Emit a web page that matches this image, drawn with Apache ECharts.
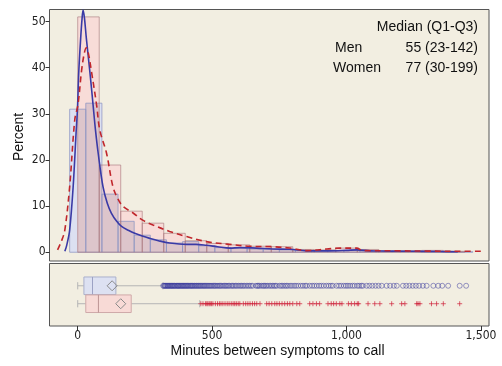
<!DOCTYPE html>
<html><head><meta charset="utf-8">
<script src="https://cdn.jsdelivr.net/npm/echarts@6/dist/echarts.min.js"></script>
<style>html,body{margin:0;padding:0;background:#fff}#c{width:502px;height:366px}</style>
</head><body><div id="c"></div>
<script>
// ---------- data ----------
const xTicks = [0, 500, 1000, 1500];
const yTicks = [0, 10, 20, 30, 40, 50];
const xTitle = 'Minutes between symptoms to call';
const yTitle = 'Percent';
const statsHeader = 'Median (Q1-Q3)';
const statsGroups = ['Men', 'Women'];
const statsValues = ['55 (23-142)', '77 (30-199)'];

// histogram: Men, 60-minute bins (midpoints)
const menBinWidth = 60;
const menBinMid = [0,60,120,180,240,300,360,420,480,540,600,660,720,780,840,900,960,1020,1080,1140,1200,1260,1320,1380,1440];
const menPct    = [31.0,32.3,12.6,6.7,3.7,2.7,2.0,2.3,1.4,1.0,0.9,0.7,0.6,0.5,0.4,0.3,0.4,0.4,0.3,0.2,0.3,0.2,0.2,0.1,0.1];
// histogram: Women, 80-minute bins (midpoints)
const womenBinWidth = 80;
const womenBinMid = [40,120,200,280,360,440,520,600,680,760,840,920,1000,1080,1160,1240,1320,1400];
const womenPct    = [51.0,18.9,8.9,6.3,4.1,2.5,1.9,1.6,1.3,1.2,0.6,0.5,0.9,0.6,0.3,0.3,0.4,0.2];

// kernel density curves [minutes, percent]
const menKde = [[-48,0.2],[-41,1.5],[-30,4.8],[-17,14.2],[-6,26],[-1,31],[4,39.2],[11,46.4],[16,50.5],[20,52.5],[25,50.8],[32,46.4],[45,39.2],[57,32],[66,26.5],[76,21.5],[94,14.2],[110,10.6],[125,8.5],[145,6.7],[163,5.6],[190,4.7],[212,4.1],[240,3.5],[268,3.0],[300,2.5],[342,2.0],[405,1.7],[440,1.7],[479,1.5],[520,1.2],[566,0.9],[603,1.0],[666,0.9],[726,0.7],[789,0.65],[852,0.3],[938,0.3],[1000,0.4],[1038,0.5],[1087,0.3],[1150,0.25],[1250,0.2],[1350,0.15],[1414,0.1]];
const womenKde = [[-75,0.5],[-60,2.5],[-48,4.8],[-30,14.2],[-11,28.7],[1,32],[14,39.2],[24,43],[32,44.3],[40,43],[51,39.2],[70,32],[82,26.5],[107,21.5],[131,14.2],[150,11.5],[169,9.9],[206,8.5],[240,7.0],[280,5.9],[342,4.5],[405,3.4],[479,2.3],[566,1.7],[640,1.3],[726,1.2],[789,0.9],[852,0.35],[927,0.7],[975,0.9],[1038,0.9],[1061,0.35],[1200,0.3],[1300,0.25],[1414,0.2],[1500,0.2]];

// box plots: [whisker low, Q1, median, Q3, whisker high], mean
const menBox = [0, 23, 55, 142, 317];
const menMean = 128;
const womenBox = [0, 30, 77, 199, 454];
const womenMean = 160;

const menOutliers = [318,321,324,326,329,332,335,337,340,343,346,349,351,354,357,360,362,366,369,372,374,377,380,383,386,389,392,395,398,401,404,407,410,413,417,420,423,426,429,433,436,440,443,447,450,454,457,461,465,469,472,476,480,484,488,492,496,500,505,509,513,518,522,527,531,536,541,546,551,555,560,565,571,576,581,587,592,598,604,609,615,620,627,633,639,645,651,
663,668,672,677,684,690,694,700,705,712,718,724,730,735,741,
751,757,763,770,776,782,790,797,805,812,820,830,838,846,852,
863,872,880,889,898,906,915,925,934,942,949,
963,972,980,990,998,1005,1013,1022,1030,1040,1047,1055,1061,
1075,1085,1096,1108,1119,1131,1149,1162,1176,1187,
1210,1222,1234,1246,1258,1270,1284,1298,1323,1341,1356,1378,1421,1445];
const womenOutliers = [458,466,475,480,484,489,493,498,503,512,520,527,533,540,548,556,563,571,578,584,590,597,603,
616,625,633,641,650,658,666,678,703,712,722,733,741,750,760,770,780,789,800,815,826,
863,875,888,900,931,943,952,962,975,983,1007,1018,1030,1040,1045,
1080,1105,1124,1168,1205,1217,1261,1266,1273,1316,1335,1360,1421];

// ---------- build ----------
const narrow = "'Liberation Sans Narrow','Arial Narrow','DejaVu Sans Condensed',sans-serif";
const sans = "'Liberation Sans',Arial,sans-serif";
const panelBg = '#F2EEE1';
const menRow = 0, womenRow = 1;

const menBins = menBinMid.map((m, i) => [m - menBinWidth / 2, m + menBinWidth / 2, menPct[i]]);
const womenBins = womenBinMid.map((m, i) => [m - womenBinWidth / 2, m + womenBinWidth / 2, womenPct[i]]);
const overlapBins = [];
menBins.forEach(a => womenBins.forEach(b => {
  const l = Math.max(a[0], b[0]), r = Math.min(a[1], b[1]);
  if (r > l) overlapBins.push([l, r, Math.min(a[2], b[2])]);
}));

function barSeries(data, fill, stroke, z) {
  return {
    type: 'custom', xAxisIndex: 0, yAxisIndex: 0, z: z, silent: true,
    data: data,
    renderItem: function (params, api) {
      const p0 = api.coord([api.value(0), 0]);
      const p1 = api.coord([api.value(1), api.value(2)]);
      return {
        type: 'rect',
        shape: { x: p0[0], y: p1[1], width: p1[0] - p0[0], height: p0[1] - p1[1] },
        style: { fill: fill, stroke: stroke, lineWidth: 1 }
      };
    }
  };
}

function boxSeries(row, stats, fill, stroke, medColor) {
  return {
    type: 'custom', xAxisIndex: 1, yAxisIndex: 1, silent: true, z: 3,
    data: [[row].concat(stats)],
    renderItem: function (params, api) {
      const r = api.value(0);
      const lo = api.value(1), q1 = api.value(2), md = api.value(3), q3 = api.value(4), hi = api.value(5);
      const c = v => api.coord([v, r]);
      const top = api.coord([q1, r - 0.49])[1], bot = api.coord([q1, r + 0.49])[1];
      const capT = api.coord([lo, r - 0.2])[1], capB = api.coord([lo, r + 0.2])[1];
      const y = c(lo)[1];
      const wc = '#B5B5B5';
      return {
        type: 'group',
        children: [
          { type: 'line', shape: { x1: c(lo)[0], y1: y, x2: c(q1)[0], y2: y }, style: { stroke: wc, lineWidth: 1 } },
          { type: 'line', shape: { x1: c(q3)[0], y1: y, x2: c(hi)[0], y2: y }, style: { stroke: wc, lineWidth: 1 } },
          { type: 'line', shape: { x1: c(lo)[0], y1: capT, x2: c(lo)[0], y2: capB }, style: { stroke: wc, lineWidth: 1 } },
          { type: 'line', shape: { x1: c(hi)[0], y1: capT, x2: c(hi)[0], y2: capB }, style: { stroke: wc, lineWidth: 1 } },
          { type: 'rect', shape: { x: c(q1)[0], y: top, width: c(q3)[0] - c(q1)[0], height: bot - top }, style: { fill: fill, stroke: stroke, lineWidth: 1 } },
          { type: 'line', shape: { x1: c(md)[0], y1: top, x2: c(md)[0], y2: bot }, style: { stroke: medColor, lineWidth: 1 } }
        ]
      };
    }
  };
}

const fmt = v => String(v).replace(/\B(?=(\d{3})+(?!\d))/g, ',');

const option = {
  animation: false,
  backgroundColor: '#ffffff',
  grid: [
    { left: 49.5, top: 9.5, width: 439.5, height: 251.5, show: true, backgroundColor: panelBg, borderColor: '#555', borderWidth: 1, containLabel: false },
    { left: 49.5, top: 263.5, width: 439.5, height: 62.5, show: true, backgroundColor: panelBg, borderColor: '#555', borderWidth: 1, containLabel: false }
  ],
  xAxis: [
    { type: 'value', gridIndex: 0, min: -105, max: 1530, axisLine: { show: false, onZero: false }, axisTick: { show: false }, axisLabel: { show: false }, splitLine: { show: false } },
    { type: 'value', gridIndex: 1, min: -105, max: 1530, position: 'bottom', axisLine: { show: false, onZero: false },
      axisTick: { show: true, customValues: xTicks, length: 5, lineStyle: { color: '#333' } },
      axisLabel: { show: true, customValues: xTicks, formatter: fmt, fontFamily: narrow, fontSize: 12, color: '#222', margin: 4 },
      splitLine: { show: false } }
  ],
  yAxis: [
    { type: 'value', gridIndex: 0, min: -1.9, max: 52.6, position: 'left', axisLine: { show: false, onZero: false },
      axisTick: { show: true, customValues: yTicks, length: 4, lineStyle: { color: '#333' } },
      axisLabel: { show: true, customValues: yTicks, fontFamily: narrow, fontSize: 12, color: '#222', margin: 4 },
      splitLine: { show: false } },
    { type: 'value', gridIndex: 1, min: -1.24, max: 2.24, inverse: true, show: false, axisLine: { onZero: false }, splitLine: { show: false } }
  ],
  series: [
    barSeries(menBins, '#DCE0F1', null, 1),
    barSeries(womenBins, '#F8DCD8', null, 1),
    barSeries(overlapBins, '#DDC5CB', null, 1),
    barSeries(menBins, 'none', 'rgba(140,148,195,0.75)', 2),
    barSeries(womenBins, 'none', 'rgba(165,115,120,0.6)', 2),
    { type: 'line', xAxisIndex: 0, yAxisIndex: 0, data: menKde, smooth: 0.35, showSymbol: false, z: 4,
      lineStyle: { color: '#3A3AA6', width: 1.6 } },
    { type: 'line', xAxisIndex: 0, yAxisIndex: 0, data: womenKde, smooth: 0.35, showSymbol: false, z: 5,
      lineStyle: { color: '#C0262C', width: 1.6, type: [6, 4] } },
    boxSeries(menRow, menBox, '#DDE1F2', '#AAB0CC', '#9CA2C4'),
    boxSeries(womenRow, womenBox, '#F8DAD6', '#CFA9A9', '#BC9494'),
    { type: 'scatter', xAxisIndex: 1, yAxisIndex: 1, z: 4, silent: true,
      data: [[menMean, menRow], [womenMean, womenRow]], symbol: 'diamond', symbolSize: [10, 10],
      itemStyle: { color: 'rgba(0,0,0,0)', borderColor: '#8A8A8A', borderWidth: 1, opacity: 1 } },
    { type: 'scatter', xAxisIndex: 1, yAxisIndex: 1, z: 4, silent: true,
      data: menOutliers.map(v => [v, menRow]), symbol: 'circle', symbolSize: 5,
      itemStyle: { color: 'rgba(0,0,0,0)', borderColor: 'rgba(55,55,155,0.5)', borderWidth: 1, opacity: 1 } },
    { type: 'scatter', xAxisIndex: 1, yAxisIndex: 1, z: 4, silent: true,
      data: womenOutliers.map(v => [v, womenRow]), symbol: 'path://M2,0L2,4M0,2L4,2', symbolSize: 5,
      itemStyle: { color: 'rgba(0,0,0,0)', borderColor: 'rgba(205,30,55,0.7)', borderWidth: 1, opacity: 1 } }
  ],
  graphic: [
    { type: 'text', x: 478, y: 27, style: { text: statsHeader, font: '14px ' + sans, fill: '#111', align: 'right', verticalAlign: 'middle' } },
    { type: 'text', x: 335, y: 48, style: { text: statsGroups[0], font: '14px ' + sans, fill: '#111', align: 'left', verticalAlign: 'middle' } },
    { type: 'text', x: 478, y: 48, style: { text: statsValues[0], font: '14px ' + sans, fill: '#111', align: 'right', verticalAlign: 'middle' } },
    { type: 'text', x: 333, y: 68, style: { text: statsGroups[1], font: '14px ' + sans, fill: '#111', align: 'left', verticalAlign: 'middle' } },
    { type: 'text', x: 478, y: 68, style: { text: statsValues[1], font: '14px ' + sans, fill: '#111', align: 'right', verticalAlign: 'middle' } },
    { type: 'text', x: 19, y: 137, rotation: Math.PI / 2, style: { text: yTitle, font: '14px ' + sans, fill: '#111', align: 'center', verticalAlign: 'middle' } },
    { type: 'text', x: 277.5, y: 351, style: { text: xTitle, font: '14px ' + sans, fill: '#111', align: 'center', verticalAlign: 'middle' } }
  ]
};
const chart = echarts.init(document.getElementById('c'), null, { renderer: 'canvas' });
chart.setOption(option);
</script></body></html>
